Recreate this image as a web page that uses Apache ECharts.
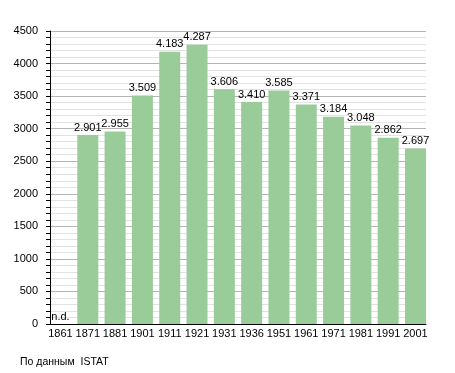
<!DOCTYPE html>
<html><head><meta charset="utf-8">
<script src="https://cdn.jsdelivr.net/npm/echarts@6/dist/echarts.min.js"></script>
<style>html,body{margin:0;padding:0;background:#fff}#c{width:455px;height:373px}</style>
</head><body><div id="c"></div>
<script>
const years = ['1861','1871','1881','1901','1911','1921','1931','1936','1951','1961','1971','1981','1991','2001'];
const population = [0, 2901, 2955, 3509, 4183, 4287, 3606, 3410, 3585, 3371, 3184, 3048, 2862, 2697];
const missing = [true, false, false, false, false, false, false, false, false, false, false, false, false, false];
const yTicks = [0, 500, 1000, 1500, 2000, 2500, 3000, 3500, 4000, 4500];
const sourceNote = 'По данным  ISTAT';

const fmt = v => { const s = String(v); return s.length > 3 ? s.slice(0, s.length-3) + '.' + s.slice(-3) : s; };
const font = 'Liberation Sans, Arial, sans-serif';
const gridColors = [];
for (let v = 0; v < 4500; v += 100) gridColors.push(v % 500 === 0 ? '#b4b4b4' : '#e2e2e2');
const idx = years.map((_, i) => i);

const chart = echarts.init(document.getElementById('c'));
chart.setOption({
  animation: false,
  grid: {left: 50, right: 29, top: 31, bottom: 49},
  xAxis: {
    type: 'value', min: -0.384, max: 13.385,
    axisLine: {show: true, onZero: false, lineStyle: {color: '#000', width: 1}},
    axisTick: {show: false},
    splitLine: {show: false},
    axisLabel: {color: '#000', fontFamily: font, fontSize: 11, margin: 4,
      customValues: idx, formatter: v => years[Math.round(v)] || ''}
  },
  yAxis: {
    type: 'value', min: 0, max: 4500, interval: 100,
    axisLine: {show: true, onZero: false, lineStyle: {color: '#000'}},
    axisTick: {show: true, length: 4, inside: false, lineStyle: {color: '#000'}},
    axisLabel: {color: '#000', fontFamily: font, fontSize: 11, margin: 12,
      formatter: v => yTicks.includes(v) ? String(v) : ''},
    splitLine: {show: true, lineStyle: {color: gridColors, width: 1}}
  },
  series: [{
    type: 'bar', data: population.map((v, i) => [i, v]),
    barWidth: 21,
    itemStyle: {color: '#99cc99'},
    label: {show: true, position: 'top', distance: 2, color: '#000', fontFamily: font, fontSize: 11,
      formatter: p => missing[p.dataIndex] ? 'n.d.' : fmt(p.value[1])}
  }],
  graphic: [{type: 'text', left: 20, top: 357, style: {text: sourceNote, fill: '#000', font: '10.5px ' + font}}]
});
</script></body></html>
